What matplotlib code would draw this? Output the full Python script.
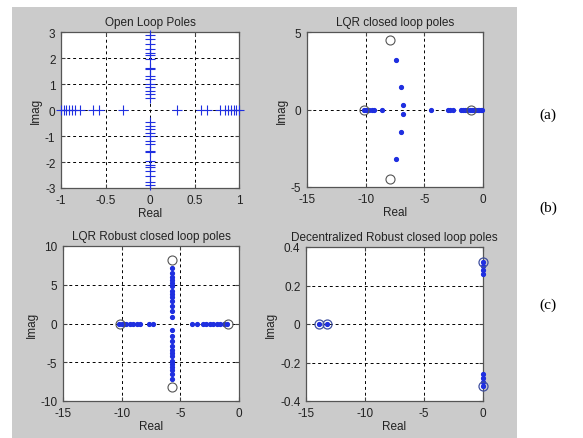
import matplotlib
matplotlib.use("Agg")
import matplotlib.pyplot as plt
from matplotlib.patches import Rectangle
import numpy as np

plt.rcParams['font.family'] = ['Liberation Sans', 'DejaVu Sans']

# ---- Data ----
# Open loop poles
ol_real_axis = [-1.0, -0.97, -0.94, -0.91, -0.88, -0.84, -0.79, -0.64, -0.57, -0.30,
                0.30, 0.57, 0.64, 0.79, 0.84, 0.88, 0.91, 0.94, 0.97, 1.0]
ol_imag_axis = [2.9, 2.75, 2.55, 2.35, 2.2, 2.1, 1.95, 1.62, 1.57, 1.3, 1.2, 1.0, 0.9,
                0.72, 0.6, 0.48,
                -0.48, -0.6, -0.72, -0.9, -1.0, -1.2, -1.3, -1.57, -1.62, -1.95, -2.1,
                -2.2, -2.35, -2.55, -2.75, -2.9]

# LQR closed loop poles
lqr_real = [-10.1, -10.0, -9.9, -9.7, -9.5, -9.3, -8.6, -4.45, -3.0, -2.8, -2.55,
            -1.9, -1.7, -1.5, -1.35, -1.1, -0.9, -0.75, -0.6, -0.45, -0.3, -0.15, -0.05]
lqr_cplx_re = [-7.44, -6.96, -6.82, -6.82, -6.96, -7.44]
lqr_cplx_im = [3.19, 1.47, 0.31, -0.31, -1.47, -3.19]
lqr_circ_re = [-7.9, -7.9, -10.1, -1.0]
lqr_circ_im = [4.5, -4.5, 0.0, 0.0]

# LQR robust closed loop poles
rob_real = [-10.2, -10.0, -9.8, -9.6, -9.3, -9.0, -8.7, -8.4, -7.7, -7.3,
            -4.0, -3.6, -3.1, -2.8, -2.5, -2.2, -1.9, -1.6, -1.3, -1.0]
rob_vert_re = -5.7
rob_vert_im = [7.2, 6.5, 6.0, 5.6, 5.2, 4.8, 4.2, 3.8, 3.4, 2.9, 2.2, 1.6, 0.9,
               -0.9, -1.6, -2.2, -2.9, -3.4, -3.8, -4.2, -4.8, -5.2, -5.6, -6.0, -6.5, -7.2]
rob_circ_re = [-5.7, -5.7, -10.15, -0.9]
rob_circ_im = [8.2, -8.2, 0.0, 0.0]

# Decentralized robust closed loop poles
dec_re = [-13.9, -13.2, 0, 0, 0, 0, 0, 0, 0, 0]
dec_im = [0, 0, 0.32, 0.30, 0.28, 0.26, -0.26, -0.28, -0.30, -0.32]
dec_circ_re = [-13.9, -13.2, 0, 0]
dec_circ_im = [0, 0, 0.32, -0.32]

titles = ["Open Loop Poles", "LQR closed loop poles",
          "LQR Robust closed loop poles", "Decentralized Robust closed loop poles"]
side_labels = ["(a)", "(b)", "(c)"]

# ---- Figure ----
W, H = 583, 439
fig = plt.figure(figsize=(W / 100, H / 100), dpi=100)
fig.patch.set_facecolor('white')
bg = Rectangle((12 / W, 0), 505 / W, 431 / H, transform=fig.transFigure,
               facecolor='#cbcbcb', edgecolor='none', zorder=-10)
fig.add_artist(bg)

def px_axes(l, t, r, b):
    ax = fig.add_axes([l / W, 1 - b / H, (r - l) / W, (b - t) / H])
    ax.set_zorder(1)
    return ax

axs = [px_axes(61, 33, 239, 189), px_axes(307, 33, 483, 188),
       px_axes(63, 247, 239, 402), px_axes(306, 248, 483, 402)]

blue = '#1f2fe0'
dot_kw = dict(linestyle='none', marker='.', color=blue, markersize=5.5, zorder=4,
              clip_on=False)
circ_kw = dict(linestyle='none', marker='o', markerfacecolor='none',
               markeredgecolor='#555555', markersize=6.5, markeredgewidth=0.8, zorder=5,
               clip_on=False)

FS = 8.5

def style(ax, xt, yt, xl, yl, title):
    ax.set_xlim(xl)
    ax.set_ylim(yl)
    ax.set_xticks(xt)
    ax.set_yticks(yt)
    ax.set_xticklabels([f"{v:g}" for v in xt])
    ax.set_yticklabels([f"{v:g}" for v in yt])
    ax.tick_params(direction='in', labelsize=FS, length=3, color='#444444',
                   labelcolor='#222222', top=True, right=True)
    ax.tick_params(axis='x', pad=4)
    ax.tick_params(axis='y', pad=4)
    ax.grid(True, color='black', linestyle=(0, (3, 3)), linewidth=0.7)
    ax.set_axisbelow(True)
    for s in ax.spines.values():
        s.set_color('#555555')
        s.set_linewidth(0.9)
    ax.set_xlabel('Real', fontsize=FS, labelpad=1, color='#222222')
    ax.set_ylabel('Imag', fontsize=FS, labelpad=2, color='#222222')
    ax.set_title(title, fontsize=FS, pad=5, color='#222222')
    ax.set_facecolor('white')

# (1) Open loop
ax = axs[0]
ax.plot(ol_real_axis, np.zeros(len(ol_real_axis)), linestyle='none', marker='+',
        color=blue, markersize=7, markeredgewidth=0.8, zorder=4, clip_on=False)
ax.plot(np.zeros(len(ol_imag_axis)), ol_imag_axis, linestyle='none', marker='+',
        color=blue, markersize=7, markeredgewidth=0.8, zorder=4, clip_on=False)
style(ax, [-1, -0.5, 0, 0.5, 1], [-3, -2, -1, 0, 1, 2, 3], (-1, 1), (-3, 3), titles[0])

# (2) LQR
ax = axs[1]
ax.plot(lqr_real, np.zeros(len(lqr_real)), **dot_kw)
ax.plot(lqr_cplx_re, lqr_cplx_im, **dot_kw)
ax.plot(lqr_circ_re, lqr_circ_im, **circ_kw)
style(ax, [-15, -10, -5, 0], [-5, 0, 5], (-15, 0), (-5, 5), titles[1])

# (3) LQR robust
ax = axs[2]
ax.plot(rob_real, np.zeros(len(rob_real)), **dot_kw)
ax.plot(np.full(len(rob_vert_im), rob_vert_re), rob_vert_im, **dot_kw)
ax.plot(rob_circ_re, rob_circ_im, **circ_kw)
style(ax, [-15, -10, -5, 0], [-10, -5, 0, 5, 10], (-15, 0), (-10, 10), titles[2])

# (4) Decentralized
ax = axs[3]
ax.plot(dec_re, dec_im, **dot_kw)
ax.plot(dec_circ_re, dec_circ_im, linestyle='none', marker='o', markerfacecolor='none',
        markeredgecolor='#4050a0', markersize=6.5, markeredgewidth=0.9, zorder=5,
        clip_on=False)
style(ax, [-15, -10, -5, 0], [-0.4, -0.2, 0, 0.2, 0.4], (-15, 0), (-0.4, 0.4), titles[3])

for lab, ypx in zip(side_labels, [115, 208, 305]):
    fig.text(548 / W, 1 - ypx / H, lab, fontsize=11, family=['Liberation Serif'],
             ha='center', va='center', color='black')

fig.savefig('out.png', dpi=100, facecolor='white')
